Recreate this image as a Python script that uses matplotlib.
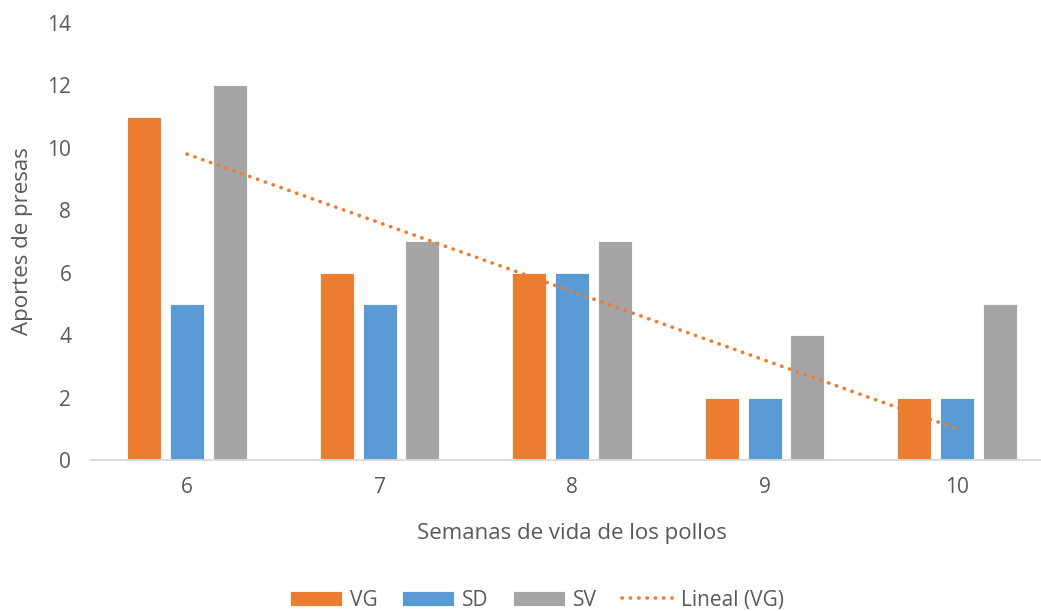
import numpy as np
import matplotlib.pyplot as plt

# Aportes de presas por semana de vida de los pollos
semanas = ["6", "7", "8", "9", "10"]
vg = [11, 6, 6, 2, 2]
sd = [5, 5, 6, 2, 2]
sv = [12, 7, 7, 4, 5]

COLORS = {"VG": "#ED7D31", "SD": "#5B9BD5", "SV": "#A5A5A5"}
TEXT = "#595959"

plt.rcParams['font.family'] = ['Open Sans', 'DejaVu Sans']

fig = plt.figure(figsize=(10.41, 6.11), dpi=100)
ax = fig.add_axes([0.0872, 0.2471, 0.9247, 0.7153])

x = np.arange(len(semanas))
width = 0.176
step = 0.222
handles = []
for off, vals, name in [(-step, vg, "VG"), (0, sd, "SD"), (step, sv, "SV")]:
    h = ax.bar(x + off, vals, width, color=COLORS[name], label=name,
               edgecolor="white", linewidth=0.6)
    handles.append(h)

# linear trend of VG, from first to last category
coef = np.polyfit(x, vg, 1)
line, = ax.plot(x, np.polyval(coef, x), color=COLORS["VG"], linestyle=(0, (0.1, 2.2)),
                linewidth=2.6, dash_capstyle="round", label="Lineal (VG)")
handles.append(line)

ax.set_xlim(-0.5, len(semanas) - 0.5)
ax.set_ylim(0, 14)
ax.set_yticks(range(0, 15, 2))
ax.set_xticks(x, semanas)
ax.tick_params(length=0, labelsize=15, colors=TEXT)
ax.tick_params(axis="y", pad=14)
ax.tick_params(axis="x", pad=12)
for s in ["top", "right", "left"]:
    ax.spines[s].set_visible(False)
ax.spines["bottom"].set_color("#D9D9D9")
ax.spines["bottom"].set_linewidth(1.3)

ax.set_xlabel("Semanas de vida de los pollos", fontsize=16, color=TEXT, labelpad=18)
ax.set_ylabel("Aportes de presas", fontsize=16, color=TEXT, labelpad=10)

fig.legend(handles=handles, loc="center", bbox_to_anchor=(0.516, 0.018), ncol=4,
           frameon=False, fontsize=15, labelcolor=TEXT, handlelength=2.5,
           handleheight=0.7, columnspacing=1.2, handletextpad=0.35)

fig.savefig("out.png", dpi=100)
